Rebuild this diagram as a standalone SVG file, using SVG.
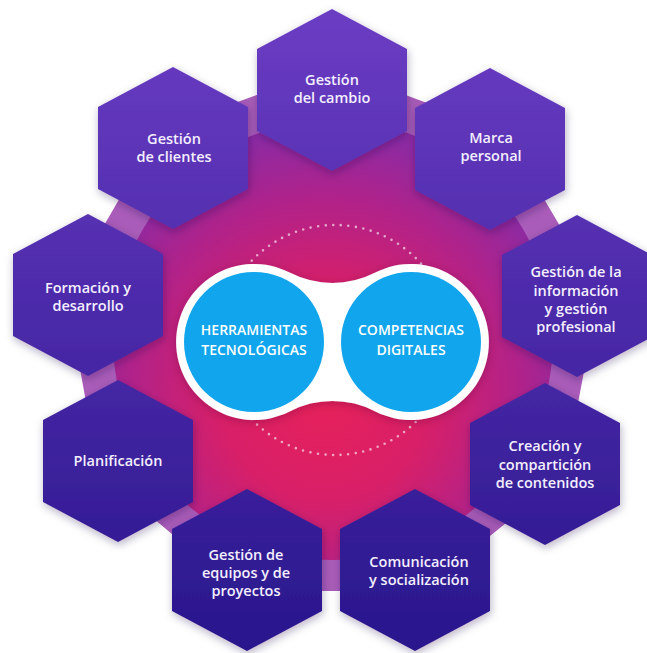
<svg xmlns="http://www.w3.org/2000/svg" width="647" height="653" viewBox="0 0 647 653">
<defs>
<linearGradient id="hexGrad" gradientUnits="userSpaceOnUse" x1="0" y1="0" x2="0" y2="653">
<stop offset="0" stop-color="#6c3dc4"/>
<stop offset="1" stop-color="#28168c"/>
</linearGradient>
<radialGradient id="coreGrad" gradientUnits="userSpaceOnUse" cx="325" cy="390" r="260" fx="325" fy="400">
<stop offset="0" stop-color="#e6215a"/>
<stop offset="0.4" stop-color="#d81f68"/>
<stop offset="0.75" stop-color="#b0228a"/>
<stop offset="1" stop-color="#8c2aa3"/>
</radialGradient>
<filter id="shadow" x="-20%" y="-20%" width="140%" height="140%">
<feDropShadow dx="1" dy="3" stdDeviation="4" flood-color="#1a0a40" flood-opacity="0.3"/>
</filter>
<filter id="softShadow" x="-20%" y="-20%" width="140%" height="140%">
<feDropShadow dx="0" dy="2" stdDeviation="5" flood-color="#600030" flood-opacity="0.35"/>
</filter>
<style>
.hex { fill: url(#hexGrad); filter: url(#shadow); }
.lbl { font-family: "Open Sans", "Liberation Sans", sans-serif; font-weight: 600; font-size: 14.5px; fill: #f4efff; text-anchor: middle; }
.ctr { font-family: "Open Sans", "Liberation Sans", sans-serif; font-weight: 600; font-size: 14px; fill: #ffffff; text-anchor: middle; }
.band { fill: #9a34a6; stroke: #a95cb9; stroke-width: 42; stroke-linejoin: round; }
</style>
</defs>
<rect width="647" height="653" fill="#ffffff"/>
<g id="connectors">
<polygon class="band" points="332,90 490,149 577,296 545,464 415,570 247,570 118,461 88,295 173,148"/>
</g>
<g id="core">
<circle cx="333" cy="340" r="220" fill="url(#coreGrad)"/>
<circle cx="335" cy="340" r="115" fill="none" stroke="#ffffff" stroke-opacity="0.6" stroke-width="2.6" stroke-linecap="round" stroke-dasharray="0 7.6"/>
</g>
<g id="center">
<path filter="url(#softShadow)" fill="#ffffff" d="M 289.7 272.6 A 93.7 93.7 0 0 0 375.3 272.6 A 78 78 0 1 1 375.3 411.4 A 93.7 93.7 0 0 0 289.7 411.4 A 78 78 0 1 1 289.7 272.6 Z"/>
<g id="herramientas">
<circle cx="254" cy="342" r="70" fill="#11a5ed"/>
<text class="ctr" x="254" y="335">HERRAMIENTAS</text>
<text class="ctr" x="254" y="355">TECNOLÓGICAS</text>
</g>
<g id="competencias">
<circle cx="411" cy="342" r="70" fill="#11a5ed"/>
<text class="ctr" x="411" y="335">COMPETENCIAS</text>
<text class="ctr" x="411" y="355">DIGITALES</text>
</g>
</g>
<g id="gestion-cambio">
<polygon class="hex" points="332,9 407,49 407,131 332,171 257,131 257,49"/>
<text class="lbl" x="332" y="85">Gestión</text>
<text class="lbl" x="332" y="103">del cambio</text>
</g>
<g id="marca-personal">
<polygon class="hex" points="490,68 565,108 565,190 490,230 415,190 415,108"/>
<text class="lbl" x="491" y="143">Marca</text>
<text class="lbl" x="491" y="161">personal</text>
</g>
<g id="gestion-informacion">
<polygon class="hex" points="577,215 652,255 652,337 577,377 502,337 502,255"/>
<text class="lbl" x="576" y="277">Gestión de la</text>
<text class="lbl" x="576" y="296">información</text>
<text class="lbl" x="576" y="314">y gestión</text>
<text class="lbl" x="576" y="332">profesional</text>
</g>
<g id="creacion">
<polygon class="hex" points="545,383 620,423 620,505 545,545 470,505 470,423"/>
<text class="lbl" x="545" y="451">Creación y</text>
<text class="lbl" x="545" y="470">compartición</text>
<text class="lbl" x="545" y="488">de contenidos</text>
</g>
<g id="comunicacion">
<polygon class="hex" points="415,489 490,529 490,611 415,651 340,611 340,529"/>
<text class="lbl" x="419" y="567">Comunicación</text>
<text class="lbl" x="419" y="585">y socialización</text>
</g>
<g id="gestion-equipos">
<polygon class="hex" points="247,489 322,529 322,611 247,651 172,611 172,529"/>
<text class="lbl" x="246" y="560">Gestión de</text>
<text class="lbl" x="246" y="578">equipos y de</text>
<text class="lbl" x="246" y="596">proyectos</text>
</g>
<g id="planificacion">
<polygon class="hex" points="118,380 193,420 193,502 118,542 43,502 43,420"/>
<text class="lbl" x="118" y="466">Planificación</text>
</g>
<g id="formacion">
<polygon class="hex" points="88,214 163,254 163,336 88,376 13,336 13,254"/>
<text class="lbl" x="88" y="293">Formación y</text>
<text class="lbl" x="88" y="311">desarrollo</text>
</g>
<g id="gestion-clientes">
<polygon class="hex" points="173,67 248,107 248,189 173,229 98,189 98,107"/>
<text class="lbl" x="174" y="144">Gestión</text>
<text class="lbl" x="174" y="162">de clientes</text>
</g>
</svg>
